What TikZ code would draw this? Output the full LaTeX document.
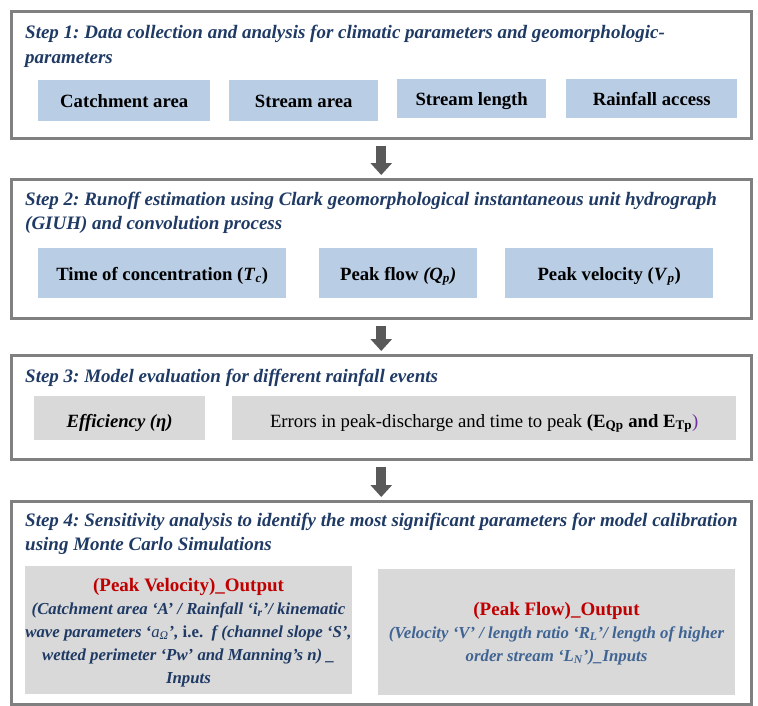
\documentclass[tikz,border=0pt]{standalone}
\usepackage{fontspec}
\setmainfont{Liberation Serif}
\usetikzlibrary{arrows.meta}
\definecolor{navy}{HTML}{1F3A64}
\definecolor{lblue}{HTML}{B9CDE5}
\definecolor{lgrey}{HTML}{D9D9D9}
\definecolor{bord}{HTML}{808080}
\definecolor{arr}{HTML}{595959}
\definecolor{dred}{HTML}{C00000}
\definecolor{mblue}{HTML}{3F6494}
\definecolor{purp}{HTML}{7030A0}
\frenchspacing
\tikzset{
  outer/.style={draw=bord, line width=2.5pt, fill=white, anchor=north west, inner sep=0pt},
  title/.style={anchor=base west, inner sep=0pt, text=navy, font=\fontsize{19}{23}\selectfont\bfseries\itshape},
  bluebox/.style={fill=lblue, anchor=north west, inner sep=0pt, font=\fontsize{18.7}{22}\selectfont\bfseries},
  greybox/.style={fill=lgrey, anchor=north west, inner sep=0pt},
  redline/.style={anchor=base, inner sep=0pt, text=dred, font=\fontsize{19}{23}\selectfont\bfseries},
  inline/.style={anchor=base, inner sep=0pt, font=\fontsize{16.8}{20}\selectfont\bfseries\itshape},
  flow/.style={draw=arr, line width=10pt, -{Triangle[width=21pt,length=12pt]}, shorten <=6pt, shorten >=3pt}
}
\begin{document}
\begin{tikzpicture}[x=1pt,y=-1pt]
\useasboundingbox (0,0) rectangle (758,705);
% Step 1
\node[outer, minimum width=740pt, minimum height=127pt] (b1) at (10,10) {};
\node[title] (t1a) at (25,38) {Step 1: Data collection and analysis for climatic parameters and geomorphologic-};
\node[title] (t1b) at (25,63) {parameters};
\node[bluebox, minimum width=172pt, text height=27pt, text depth=14pt] (c1) at (38,80) {Catchment area};
\node[bluebox, minimum width=149pt, text height=27pt, text depth=14pt] (c2) at (229,80) {Stream area};
\node[bluebox, minimum width=149pt, text height=26pt, text depth=13pt] (c3) at (397,79) {Stream length};
\node[bluebox, minimum width=171pt, text height=26pt, text depth=13pt] (c4) at (566,79) {Rainfall access};
% Step 2
\node[outer, minimum width=740pt, minimum height=139pt] (b2) at (10,178) {};
\node[title] (t2a) at (25,205) {Step 2: Runoff estimation using Clark geomorphological instantaneous unit hydrograph};
\node[title] (t2b) at (25,229) {(GIUH) and convolution process};
\node[bluebox, minimum width=248pt, text height=32pt, text depth=18pt] (d1) at (38,248) {Time of concentration (\textit{T}\textsubscript{\textit{c}})};
\node[bluebox, minimum width=158pt, text height=32pt, text depth=18pt] (d2) at (319,248) {Peak flow \textit{(Q\textsubscript{p})}};
\node[bluebox, minimum width=208pt, text height=32pt, text depth=18pt] (d3) at (505,248) {Peak velocity (\textit{V}\textsubscript{\textit{p}})};
% Step 3
\node[outer, minimum width=740pt, minimum height=104pt] (b3) at (10,354) {};
\node[title] (t3) at (25,382) {Step 3: Model evaluation for different rainfall events};
\node[greybox, minimum width=171pt, text height=31pt, text depth=13pt, font=\fontsize{18.7}{22}\selectfont\bfseries\itshape] (e1) at (34,396) {Efficiency (η)};
\node[greybox, minimum width=504pt, text height=31pt, text depth=13pt, font=\fontsize{18.7}{22}\selectfont] (e2) at (232,396) {Errors in peak-discharge and time to peak \textbf{(E\textsubscript{Qp} and E\textsubscript{Tp}}\textcolor{purp}{)}};
% Step 4
\node[outer, minimum width=740pt, minimum height=203pt] (b4) at (10,500) {};
\node[title] (t4a) at (25,526) {Step 4: Sensitivity analysis to identify the most significant parameters for model calibration};
\node[title] (t4b) at (25,550) {using Monte Carlo Simulations};
\node[greybox, minimum width=327pt, minimum height=128pt] (f1) at (25,566) {};
\node[greybox, minimum width=357pt, minimum height=126pt] (f2) at (378,569) {};
\node[redline] (f1r) at (188.5,591) {(Peak Velocity)\_Output};
\node[inline, text=navy] (f1a) at (188.5,614) {(Catchment area ‘A’ / Rainfall ‘i\textsubscript{r}’/ kinematic};
\node[inline, text=navy] (f1b) at (188.5,637) {wave parameters ‘{\mdseries a\textsubscript{Ω}}’, \textup{i.e.}\ \ \textit{f} (channel slope ‘S’,};
\node[inline, text=navy] (f1c) at (188.5,660) {wetted perimeter ‘Pw’ and Manning’s n) \_};
\node[inline, text=navy] (f1d) at (188.5,683) {Inputs};
\node[redline] (f2r) at (556.5,615) {(Peak Flow)\_Output};
\node[inline, text=mblue] (f2a) at (556.5,638) {(Velocity ‘V’ / length ratio ‘R\textsubscript{L}’/ length of higher};
\node[inline, text=mblue] (f2b) at (556.5,661) {order stream ‘L\textsubscript{N}’)\_Inputs};
% arrows
\draw[flow] (b1.south) -- (b2.north);
\draw[flow] (b2.south) -- (b3.north);
\draw[flow] (b3.south) -- (b4.north);
\end{tikzpicture}
\end{document}
